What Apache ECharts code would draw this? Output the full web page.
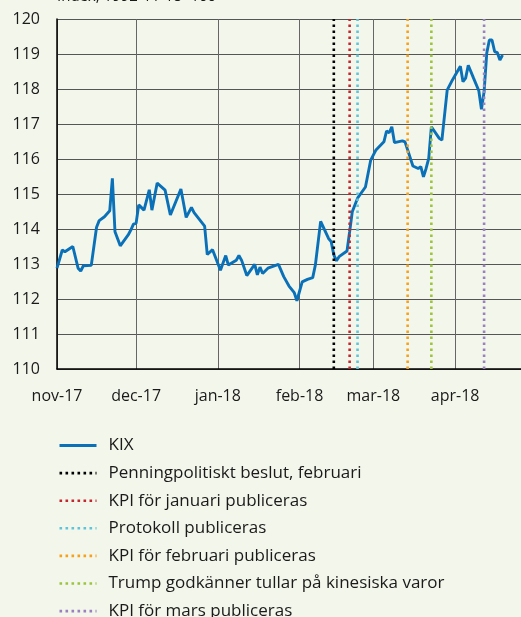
<!DOCTYPE html>
<html><head><meta charset="utf-8">
<script src="https://cdn.jsdelivr.net/npm/echarts@6/dist/echarts.min.js"></script>
<style>html,body{margin:0;padding:0;background:#f3f6ea}#c{width:521px;height:617px}</style>
</head><body><div id="c"></div>
<script>
const titleText = 'Index, 1992-11-18=100';
const kixName = 'KIX';
const kixDates = ['2017-11-01','2017-11-03','2017-11-04','2017-11-07','2017-11-09','2017-11-10','2017-11-11','2017-11-14','2017-11-16','2017-11-17','2017-11-19','2017-11-21','2017-11-22','2017-11-23','2017-11-25','2017-11-28','2017-11-29','2017-11-30','2017-12-01','2017-12-02','2017-12-04','2017-12-06','2017-12-07','2017-12-09','2017-12-12','2017-12-14','2017-12-18','2017-12-20','2017-12-22','2017-12-23','2017-12-27','2017-12-28','2017-12-30','2018-01-02','2018-01-04','2018-01-05','2018-01-08','2018-01-09','2018-01-10','2018-01-12','2018-01-15','2018-01-16','2018-01-17','2018-01-18','2018-01-20','2018-01-24','2018-01-26','2018-01-28','2018-01-30','2018-01-31','2018-02-02','2018-02-04','2018-02-06','2018-02-07','2018-02-09','2018-02-12','2018-02-13','2018-02-14','2018-02-15','2018-02-16','2018-02-19','2018-02-20','2018-02-21','2018-02-23','2018-02-26','2018-02-28','2018-03-02','2018-03-05','2018-03-06','2018-03-07','2018-03-08','2018-03-09','2018-03-12','2018-03-13','2018-03-14','2018-03-16','2018-03-18','2018-03-19','2018-03-20','2018-03-21','2018-03-22','2018-03-23','2018-03-26','2018-03-27','2018-03-29','2018-03-31','2018-04-03','2018-04-04','2018-04-05','2018-04-06','2018-04-08','2018-04-10','2018-04-11','2018-04-12','2018-04-13','2018-04-14','2018-04-15','2018-04-16','2018-04-17','2018-04-18','2018-04-19'];
const kixValues = [112.88,113.40,113.35,113.50,112.88,112.80,112.95,112.96,114.05,114.24,114.35,114.52,115.45,113.92,113.52,113.83,113.97,114.14,114.16,114.69,114.54,115.12,114.54,115.31,115.11,114.40,115.14,114.33,114.62,114.47,114.08,113.27,113.41,112.82,113.24,112.97,113.11,113.24,113.11,112.67,112.99,112.69,112.91,112.73,112.88,112.99,112.64,112.37,112.18,111.95,112.49,112.56,112.61,112.97,114.22,113.73,113.64,113.26,113.09,113.21,113.37,113.92,114.49,114.88,115.20,115.97,116.26,116.49,116.80,116.75,116.92,116.47,116.52,116.49,116.26,115.80,115.73,115.78,115.49,115.73,116.02,116.92,116.59,116.54,117.97,118.26,118.65,118.21,118.31,118.68,118.31,117.95,117.42,117.92,119.02,119.40,119.40,119.07,119.04,118.83,118.97];
const eventNames = ['Penningpolitiskt beslut, februari','KPI för januari publiceras','Protokoll publiceras','KPI för februari publiceras','Trump godkänner tullar på kinesiska varor','KPI för mars publiceras'];
const eventDates = ['2018-02-14','2018-02-20','2018-02-23','2018-03-14','2018-03-23','2018-04-12'];
const yMin = 110, yMax = 120, yStep = 1;
const xMin = '2017-11-01', xMax = '2018-04-26';
const monthNames = ['jan','feb','mar','apr','maj','jun','jul','aug','sep','okt','nov','dec'];

// styles
const eventColors = ['#000000','#c1272d','#5ec4d9','#f7a11a','#9cc43d','#9b80c0'];
const KIX_COLOR = '#0a70b8';
const FONT = '"Open Sans"';

const chart = echarts.init(document.getElementById('c'), null, {renderer:'canvas'});
const series = [{
  name: kixName, type: 'line', symbol: 'none', z: 2,
  data: kixDates.map((d,i)=>[d, kixValues[i]]),
  lineStyle: {color: KIX_COLOR, width: 2.9},
  itemStyle: {color: KIX_COLOR}
}];
eventNames.forEach((n,i)=>{
  series.push({
    name: n, type: 'line', symbol: 'none', z: 3,
    data: [[eventDates[i], yMin],[eventDates[i], yMax]],
    lineStyle: {color: eventColors[i], width: 2.6, type: [2.6,3.4]},
    itemStyle: {color: eventColors[i]}
  });
});
chart.setOption({
  backgroundColor: '#f3f6ea',
  animation: false,
  textStyle: {fontFamily: FONT},
  graphic: [{type:'text', left: 57, top: -11, style:{text: titleText, font: '15px ' + FONT, fill:'#1a1a1a'}}],
  grid: {left: 57, right: 0, top: 19, bottom: 248, containLabel: false},
  xAxis: {
    type: 'time', min: xMin, max: xMax, splitNumber: 6,
    minInterval: 28*86400000,
    axisLine: {lineStyle:{color:'#000', width:1.5}},
    axisTick: {show:false},
    splitLine: {show:true, lineStyle:{color:'#666', width:1}},
    axisLabel: {color:'#1a1a1a', fontSize:16, fontFamily: FONT, margin: 19,
      formatter: v => { const d = new Date(v); return monthNames[d.getMonth()] + '-' + String(d.getFullYear()).slice(2); }}
  },
  yAxis: {
    type: 'value', min: yMin, max: yMax, interval: yStep,
    axisLine: {show:true, lineStyle:{color:'#000', width:1.5}},
    axisTick: {show:false},
    splitLine: {lineStyle:{color:'#555', width:1}},
    axisLabel: {color:'#1a1a1a', fontSize:16, fontFamily: FONT, margin: 17}
  },
  legend: {
    orient: 'vertical', left: 58, top: 437, height: 200, padding: 0,
    itemWidth: 37, itemHeight: 14, itemGap: 10.6,
    itemStyle: {opacity: 0},
    data: [{name: kixName, lineStyle: {width: 3}}].concat(eventNames.map(n => ({name: n, lineStyle: {width: 2.6}}))),
    textStyle: {fontFamily: FONT, fontSize: 17, lineHeight: 14, color:'#1a1a1a', padding:[0,0,0,7]}
  },
  series: series
});
</script></body></html>
